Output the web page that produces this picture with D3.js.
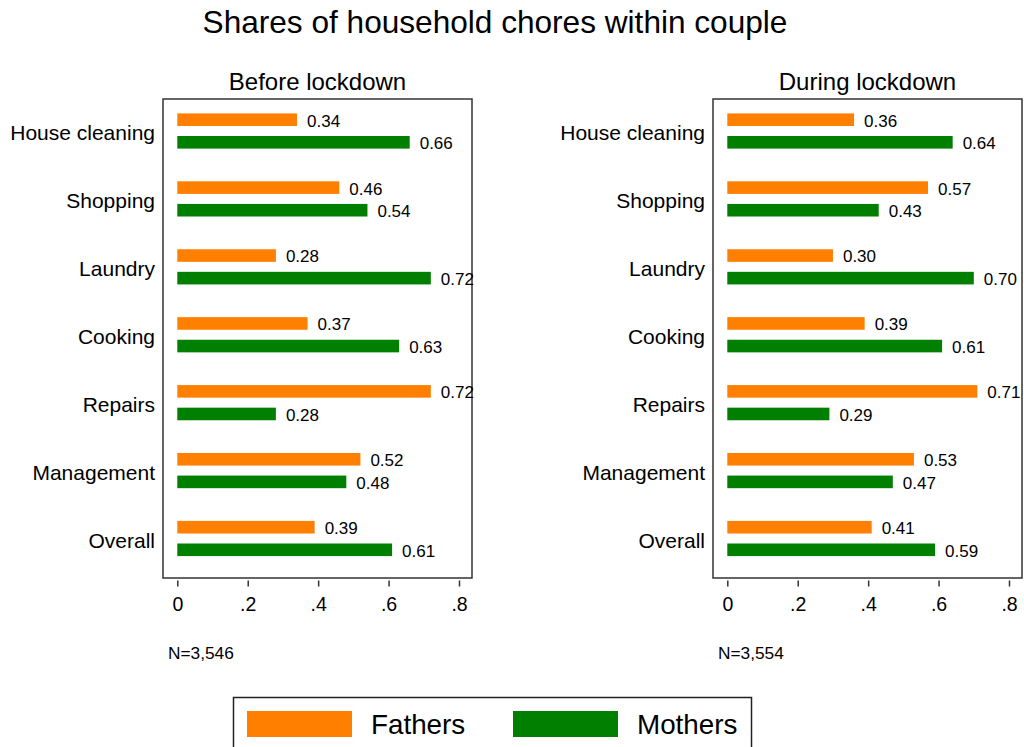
<!DOCTYPE html>
<html>
<head>
<meta charset="utf-8">
<script src="https://cdn.jsdelivr.net/npm/d3@7"></script>
<style>
  body { margin: 0; background: #fff; }
  svg { display: block; font-family: Arial, "Liberation Sans", sans-serif; }
</style>
</head>
<body>
<script>
// chores, in the order they are listed top to bottom
const categories = ["House cleaning", "Shopping", "Laundry", "Cooking", "Repairs", "Management", "Overall"];
const fathersBefore = [0.34, 0.46, 0.28, 0.37, 0.72, 0.52, 0.39];
const mothersBefore = [0.66, 0.54, 0.72, 0.63, 0.28, 0.48, 0.61];
const fathersDuring = [0.36, 0.57, 0.30, 0.39, 0.71, 0.53, 0.41];
const mothersDuring = [0.64, 0.43, 0.70, 0.61, 0.29, 0.47, 0.59];
const xTicks = [0, 0.2, 0.4, 0.6, 0.8];
const seriesNames = ["Fathers", "Mothers"];
const seriesColors = ["#ff7f00", "#007f00"];

const panels = [
	{ title: "Before lockdown", note: "N=3,546", left: 163, fathers: fathersBefore, mothers: mothersBefore },
	{ title: "During lockdown", note: "N=3,554", left: 713, fathers: fathersDuring, mothers: mothersDuring }
];

const width = 1024, height = 747;
const frameTop = 99, frameBottom = 578, frameWidth = 309;

const svg = d3.select("body").append("svg")
	.attr("width", width)
	.attr("height", height);

svg.append("text")
	.attr("x", 495)
	.attr("y", 33)
	.attr("text-anchor", "middle")
	.style("font-size", "31.6px")
	.text("Shares of household chores within couple");

const y = d3.scalePoint()
	.domain(categories)
	.range([frameTop + 32, frameBottom - 39.5]);

const ySeries = d3.scalePoint()
	.domain(seriesNames)
	.range([-11.3, 11.3]);

panels.forEach(p => {
	const g = svg.append("g");

	const x = d3.scaleLinear()
		.domain([0, 0.8])
		.range([p.left + 14.3, p.left + 296]);

	g.append("rect")
		.attr("x", p.left)
		.attr("y", frameTop)
		.attr("width", frameWidth)
		.attr("height", frameBottom - frameTop)
		.attr("fill", "none")
		.attr("stroke", "#333")
		.attr("stroke-width", 1.5);

	g.append("text")
		.attr("x", p.left + frameWidth / 2)
		.attr("y", 90)
		.attr("text-anchor", "middle")
		.style("font-size", "24px")
		.text(p.title);

	// category labels left of the frame
	g.selectAll(".cat")
		.data(categories)
		.enter()
		.append("text")
		.attr("class", "cat")
		.attr("x", p.left - 8)
		.attr("y", d => y(d) + 2)
		.attr("dy", "0.35em")
		.attr("text-anchor", "end")
		.style("font-size", "21px")
		.text(d => d);

	const rows = [];
	categories.forEach((c, i) => {
		rows.push({ cat: c, series: "Fathers", value: p.fathers[i] });
		rows.push({ cat: c, series: "Mothers", value: p.mothers[i] });
	});

	const color = d3.scaleOrdinal().domain(seriesNames).range(seriesColors);

	g.selectAll(".bar")
		.data(rows)
		.enter()
		.append("rect")
		.attr("class", "bar")
		.attr("x", x(0))
		.attr("y", d => y(d.cat) + ySeries(d.series) - 6.3)
		.attr("width", d => x(d.value) - x(0))
		.attr("height", 12.6)
		.attr("fill", d => color(d.series));

	g.selectAll(".val")
		.data(rows)
		.enter()
		.append("text")
		.attr("class", "val")
		.attr("x", d => x(d.value) + 10)
		.attr("y", d => y(d.cat) + ySeries(d.series) + 1)
		.attr("dy", "0.35em")
		.style("font-size", "17px")
		.text(d => d3.format(".2f")(d.value));

	const axis = d3.axisBottom(x)
		.tickValues(xTicks)
		.tickSize(6)
		.tickPadding(11)
		.tickFormat(d => d === 0 ? "0" : d3.format(".1f")(d).replace(/^0/, ""));

	const ax = g.append("g")
		.attr("transform", `translate(0,${frameBottom + 2.5})`)
		.call(axis);
	ax.select(".domain").remove();
	ax.selectAll("line").attr("stroke", "#333").attr("stroke-width", 1.5);
	ax.selectAll("text")
		.style("font-size", "19.5px")
		.style("font-family", "Arial, 'Liberation Sans', sans-serif")
		.attr("fill", "#000");

	g.append("text")
		.attr("x", p.left + 5)
		.attr("y", 659)
		.style("font-size", "17.3px")
		.text(p.note);
});

// legend
const legend = svg.append("g");
legend.append("rect")
	.attr("x", 233.5)
	.attr("y", 697.5)
	.attr("width", 518)
	.attr("height", 60)
	.attr("fill", "none")
	.attr("stroke", "#222")
	.attr("stroke-width", 1.5);

const legendX = d3.scalePoint().domain(seriesNames).range([247, 513]);

legend.selectAll(".sw")
	.data(seriesNames)
	.enter()
	.append("rect")
	.attr("x", d => legendX(d))
	.attr("y", 711)
	.attr("width", 105)
	.attr("height", 26)
	.attr("fill", (d, i) => seriesColors[i]);

legend.selectAll(".lt")
	.data(seriesNames)
	.enter()
	.append("text")
	.attr("x", d => legendX(d) + 124)
	.attr("y", 724)
	.attr("dy", "0.35em")
	.style("font-size", "27.8px")
	.text(d => d);
</script>
</body>
</html>
